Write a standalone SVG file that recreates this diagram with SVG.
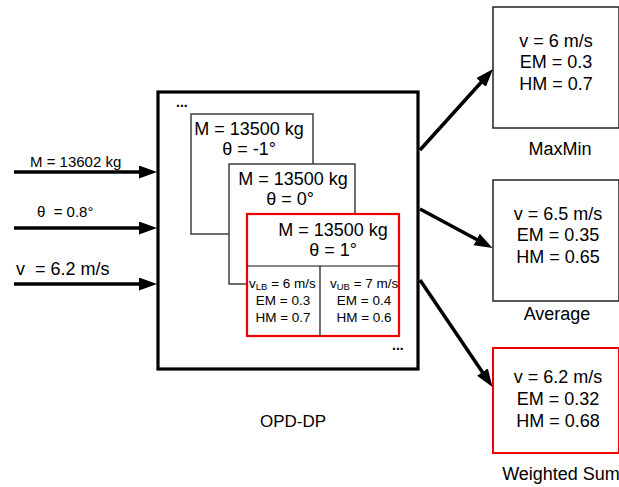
<svg xmlns="http://www.w3.org/2000/svg" width="619" height="487" viewBox="0 0 619 487">
<defs>
<style>
text{font-family:"Liberation Sans",Arial,sans-serif;fill:#000}
.big{font-size:18px;text-anchor:middle}
.in{font-size:15px}
.sm{font-size:13.5px;text-anchor:middle}
.frame{fill:#fff;stroke:#333;stroke-width:1.4}
.red{fill:#fff;stroke:#e00;stroke-width:2.2}
.box{fill:#fff;stroke:#222;stroke-width:1.5}
.conn{stroke:#000;stroke-width:3.5;fill:none;marker-end:url(#ah)}
.dots{font-size:14px;font-weight:bold}
</style>
<marker id="ah" markerUnits="userSpaceOnUse" markerWidth="20" markerHeight="14" refX="8" refY="6.5" orient="auto">
<path d="M0,0 L18,6.5 L0,13 z" fill="#000"/>
</marker>
</defs>
<rect width="619" height="487" fill="#fff"/>

<g id="opd-dp">
<rect x="158" y="92" width="260" height="277" fill="#fff" stroke="#000" stroke-width="3.2"/>
<text class="dots" x="176" y="107">...</text>
<text class="dots" x="392" y="350">...</text>
<text x="293" y="427" style="font-size:17px;text-anchor:middle">OPD-DP</text>
</g>

<g id="frame-neg1">
<rect class="frame" x="191" y="114" width="122" height="120"/>
<text class="big" x="249" y="135">M = 13500 kg</text>
<text class="big" x="249" y="155">θ = -1°</text>
</g>

<g id="frame-0">
<rect class="frame" x="229" y="164" width="126" height="120"/>
<text class="big" x="293" y="185">M = 13500 kg</text>
<text class="big" x="290" y="205">θ = 0°</text>
</g>

<g id="frame-1">
<rect class="red" x="247" y="214" width="152" height="122"/>
<line x1="247" y1="266" x2="399" y2="266" stroke="#111" stroke-width="1.2"/>
<line x1="320" y1="266" x2="320" y2="336" stroke="#111" stroke-width="1.2"/>
<text class="big" x="333" y="236">M = 13500 kg</text>
<text class="big" x="333" y="256">θ = 1°</text>
<text x="249" y="288" style="font-size:13.5px">v<tspan style="font-size:9.5px" dy="2">LB</tspan><tspan dy="-2"> = 6 m/s</tspan></text>
<text class="sm" x="283" y="305">EM = 0.3</text>
<text class="sm" x="283" y="322">HM = 0.7</text>
<text x="330" y="288" style="font-size:13.5px">v<tspan style="font-size:9.5px" dy="2">UB</tspan><tspan dy="-2"> = 7 m/s</tspan></text>
<text class="sm" x="364" y="305">EM = 0.4</text>
<text class="sm" x="364" y="322">HM = 0.6</text>
</g>

<g id="in-M">
<text class="in" x="30" y="167">M = 13602 kg</text>
</g>
<g id="in-theta">
<text class="in" x="37" y="217" xml:space="preserve">θ  = 0.8°</text>
</g>
<g id="in-v">
<text x="16" y="275" style="font-size:18px" xml:space="preserve">v  = 6.2 m/s</text>
</g>

<g id="maxmin">
<rect class="box" x="493" y="7" width="126" height="121"/>
<text class="big" x="556" y="47">v = 6 m/s</text>
<text class="big" x="556" y="68">EM = 0.3</text>
<text class="big" x="556" y="90">HM = 0.7</text>
<text class="big" x="560" y="155">MaxMin</text>
</g>

<g id="average">
<rect class="box" x="493" y="180" width="126" height="121"/>
<text class="big" x="558" y="220">v = 6.5 m/s</text>
<text class="big" x="558" y="241">EM = 0.35</text>
<text class="big" x="558" y="263">HM = 0.65</text>
<text class="big" x="557" y="320">Average</text>
</g>

<g id="weighted-sum">
<rect class="red" x="493" y="348" width="126" height="105" style="stroke-width:2"/>
<text class="big" x="558" y="383">v = 6.2 m/s</text>
<text class="big" x="558" y="405">EM = 0.32</text>
<text class="big" x="558" y="427">HM = 0.68</text>
<text class="big" x="561" y="480">Weighted Sum</text>
</g>

<g id="connectors">
<line class="conn" x1="14" y1="172" x2="147" y2="172"/>
<line class="conn" x1="14" y1="228" x2="147" y2="228"/>
<line class="conn" x1="14" y1="284" x2="147" y2="284"/>
<line class="conn" x1="420" y1="150" x2="486.4" y2="76.5"/>
<line class="conn" x1="420" y1="209" x2="483.7" y2="243.2"/>
<line class="conn" x1="420" y1="280" x2="486.9" y2="378.7"/>
</g>
</svg>
